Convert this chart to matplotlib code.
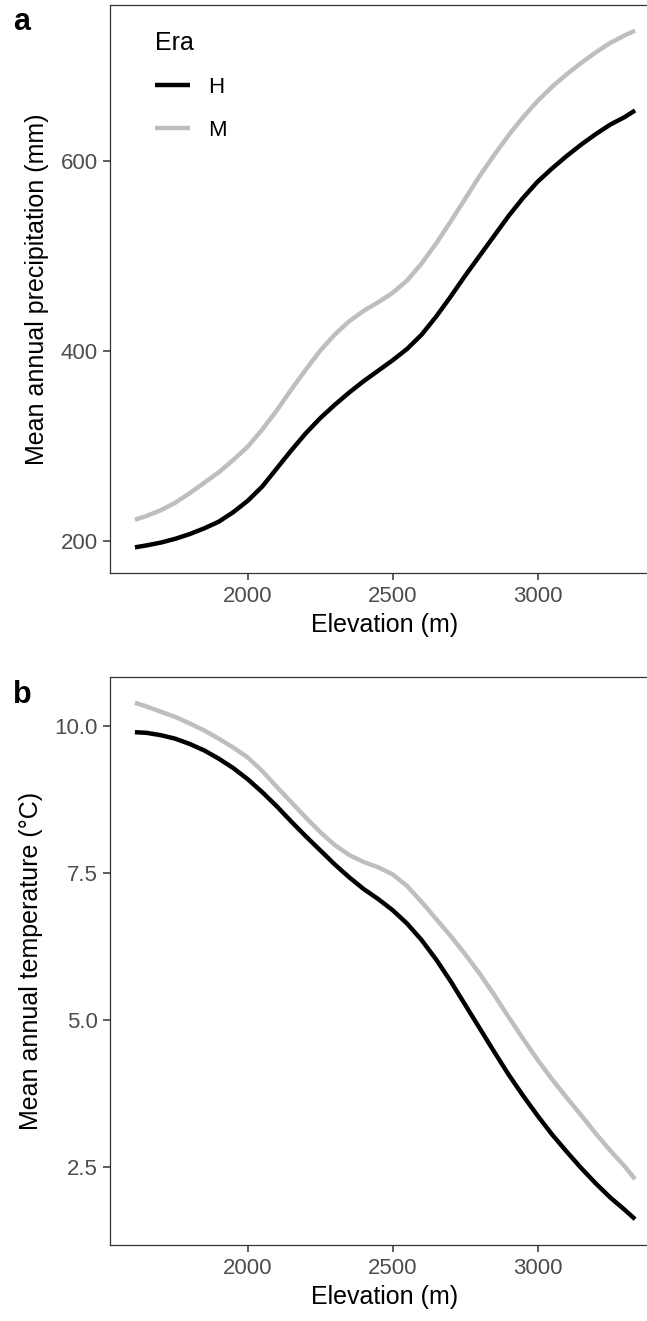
import matplotlib.pyplot as plt
from matplotlib.ticker import FormatStrFormatter

plt.rcParams['font.family'] = ['Liberation Sans', 'DejaVu Sans']

# elevation grid (m)
elev = [1611, 1650, 1700, 1750, 1800, 1850, 1900, 1950, 2000, 2050,
        2100, 2150, 2200, 2250, 2300, 2350, 2400, 2450, 2500, 2550,
        2600, 2650, 2700, 2750, 2800, 2850, 2900, 2950, 3000, 3050,
        3100, 3150, 3200, 3250, 3300, 3336]

# mean annual precipitation (mm)
precip_h = [193, 195, 198, 202, 207, 213, 220, 230, 242, 257,
            276, 295, 313, 329, 343, 356, 368, 379, 390, 402,
            417, 436, 457, 479, 500, 521, 542, 561, 578, 592,
            605, 617, 628, 638, 646, 653]
precip_m = [222, 226, 232, 240, 250, 261, 272, 285, 299, 317,
            337, 359, 380, 400, 417, 431, 442, 451, 461, 474,
            492, 513, 536, 560, 584, 606, 627, 646, 663, 678,
            691, 703, 714, 724, 732, 737]

# mean annual temperature (C)
temp_h = [9.90, 9.89, 9.85, 9.79, 9.70, 9.59, 9.45, 9.29, 9.10, 8.88,
          8.64, 8.38, 8.13, 7.89, 7.65, 7.43, 7.23, 7.06, 6.87, 6.64,
          6.36, 6.03, 5.66, 5.26, 4.86, 4.46, 4.07, 3.71, 3.37, 3.05,
          2.76, 2.48, 2.22, 1.98, 1.77, 1.61]
temp_m = [10.40, 10.34, 10.25, 10.16, 10.05, 9.93, 9.79, 9.64, 9.47, 9.24,
          8.97, 8.71, 8.45, 8.20, 7.98, 7.81, 7.69, 7.60, 7.48, 7.28,
          7.01, 6.72, 6.43, 6.12, 5.79, 5.43, 5.05, 4.68, 4.32, 3.99,
          3.68, 3.38, 3.07, 2.78, 2.51, 2.29]

eras = ['H', 'M']
colors = {'H': 'black', 'M': '#BEBEBE'}

x_ticks = [2000, 2500, 3000]
precip_ticks = [200, 400, 600]
temp_ticks = [2.5, 5.0, 7.5, 10.0]

W, H = 647, 1321
fig = plt.figure(figsize=(W / 100, H / 100), dpi=100)

ax1 = fig.add_axes([110 / W, 1 - 573 / H, 550 / W, 568 / H])
ax2 = fig.add_axes([110 / W, 1 - 1245 / H, 550 / W, 568 / H])


def style(ax):
    for s in ax.spines.values():
        s.set_color('#333333')
        s.set_linewidth(0.9)
    ax.tick_params(length=5, width=1.1, color='#333333', labelcolor='#4D4D4D',
                   labelsize=16, pad=4)
    ax.set_xticks(x_ticks)
    ax.set_xlim(1525, 3422)
    ax.set_xlabel('Elevation (m)', fontsize=18, labelpad=5)


for era, ys in zip(eras, [precip_h, precip_m]):
    ax1.plot(elev, ys, color=colors[era], lw=3.2, label=era,
             solid_capstyle='butt', solid_joinstyle='round')
style(ax1)
ax1.set_ylim(166, 764)
ax1.set_yticks(precip_ticks)
ax1.set_ylabel('Mean annual precipitation (mm)', fontsize=18, labelpad=8)
leg = ax1.legend(title='Era', loc='upper left', bbox_to_anchor=(0.045, 0.99),
                 frameon=False, fontsize=16, title_fontsize=18,
                 handlelength=1.6, handletextpad=0.8, labelspacing=1.0,
                 alignment='left')

for era, ys in zip(eras, [temp_h, temp_m]):
    ax2.plot(elev, ys, color=colors[era], lw=3.2,
             solid_capstyle='butt', solid_joinstyle='round')
style(ax2)
ax2.set_ylim(1.17, 10.84)
ax2.set_yticks(temp_ticks)
ax2.yaxis.set_major_formatter(FormatStrFormatter('%.1f'))
ax2.set_ylabel('Mean annual temperature (°C)', fontsize=18, labelpad=8)

fig.text(13 / W, 1 - 30 / H, 'a', fontsize=22, fontweight='bold', va='baseline')
fig.text(13 / W, 1 - 703 / H, 'b', fontsize=22, fontweight='bold', va='baseline')

fig.savefig('out.png', dpi=100)
